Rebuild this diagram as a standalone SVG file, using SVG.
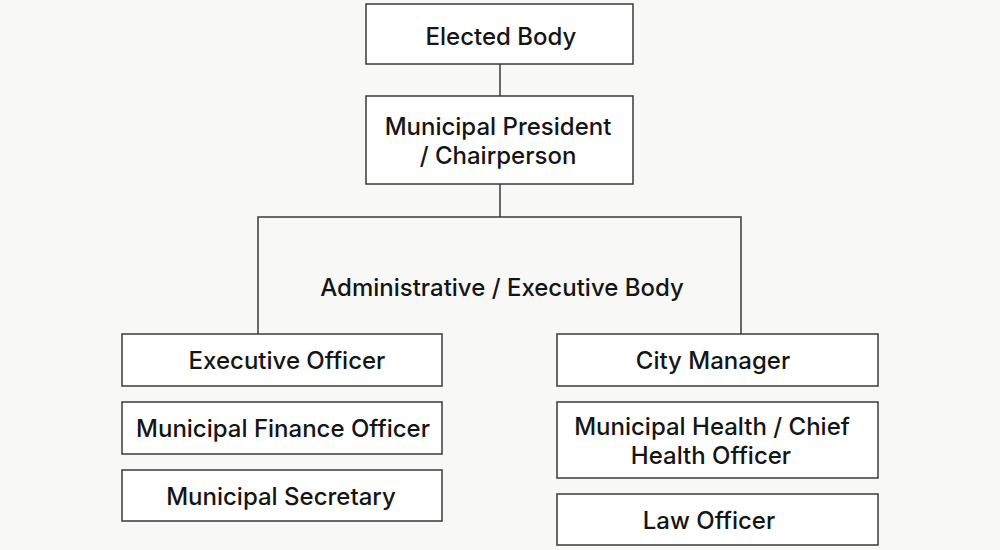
<svg xmlns="http://www.w3.org/2000/svg" width="1000" height="550" viewBox="0 0 1000 550">
<style>
.box{fill:#ffffff;stroke:#3a3a3a;stroke-width:1.5}
.t{font-family:Inter,"Liberation Sans",sans-serif;font-size:24px;font-weight:500;fill:#151515;text-anchor:middle}
.c{fill:none;stroke:#3a3a3a;stroke-width:1.5}
</style>
<rect width="1000" height="550" fill="#f8f8f7"/>
<g id="connectors">
<line class="c" x1="500" y1="64" x2="500" y2="96"/>
<line class="c" x1="500" y1="184" x2="500" y2="217"/>
<polyline class="c" points="258,334 258,217 741,217 741,334"/>
</g>
<g id="elected-body"><rect class="box" x="366" y="4" width="267" height="60"/><text class="t" x="501" y="45">Elected Body</text></g>
<g id="municipal-president"><rect class="box" x="366" y="96" width="267" height="88"/><text class="t" x="498" y="135">Municipal President</text><text class="t" x="498" y="164">/ Chairperson</text></g>
<g id="administrative-body"><text class="t" x="502" y="296">Administrative / Executive Body</text></g>
<g id="executive-officer"><rect class="box" x="122" y="334" width="320" height="52"/><text class="t" x="287" y="369">Executive Officer</text></g>
<g id="finance-officer"><rect class="box" x="122" y="402" width="320" height="52"/><text class="t" x="283" y="437">Municipal Finance Officer</text></g>
<g id="secretary"><rect class="box" x="122" y="470" width="320" height="51"/><text class="t" x="281" y="505">Municipal Secretary</text></g>
<g id="city-manager"><rect class="box" x="557" y="334" width="321" height="52"/><text class="t" x="713" y="369">City Manager</text></g>
<g id="health-officer"><rect class="box" x="557" y="402" width="321" height="76"/><text class="t" x="712" y="435">Municipal Health / Chief</text><text class="t" x="711" y="464">Health Officer</text></g>
<g id="law-officer"><rect class="box" x="557" y="494" width="321" height="51"/><text class="t" x="709" y="529">Law Officer</text></g>
</svg>
